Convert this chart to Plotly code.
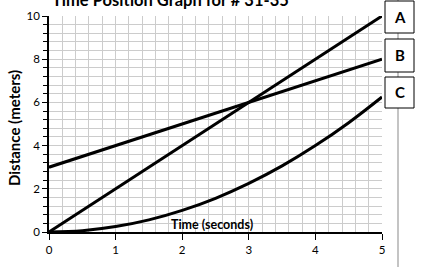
import plotly.graph_objects as go

t_line = [0, 5]
dist_a = [0, 10]
dist_b = [3, 8]
t_curve = [0, 0.5, 1, 1.5, 2, 2.5, 3, 3.5, 4, 4.5, 5]
dist_c = [0, 0.06, 0.25, 0.56, 1.0, 1.56, 2.25, 3.06, 4.0, 5.06, 6.25]
labels = ["A", "B", "C"]

W, H = 423, 267
L, R, T, B = 49, 41, 16, 35
pw, ph = W - L - R, H - T - B

def px(x):
    return (x - L) / pw

def py(y):
    return (H - B - y) / ph

FONT = "Lato"
fig = go.Figure()
line_style = dict(color="black", width=3)
fig.add_trace(go.Scatter(x=t_line, y=dist_a, mode="lines", line=line_style))
fig.add_trace(go.Scatter(x=t_line, y=dist_b, mode="lines", line=line_style))
fig.add_trace(go.Scatter(x=t_curve, y=dist_c, mode="lines", line=dict(color="black", width=3, shape="spline")))

shapes = [dict(type="line", xref="paper", yref="paper", x0=px(398), x1=px(398), y0=py(0), y1=py(H),
               line=dict(color="#b0b0b0", width=1.5), layer="below")]
boxes = [(1, 33), (39, 72), (77, 108)]
annotations = []
for lab, (y0, y1) in zip(labels, boxes):
    shapes.append(dict(type="rect", xref="paper", yref="paper", x0=px(385), x1=px(414), y0=py(y1), y1=py(y0),
                       line=dict(color="black", width=1), fillcolor="white"))
    annotations.append(dict(text=f"<b>{lab}</b>", xref="paper", yref="paper", x=px(399.5), y=py((y0 + y1) / 2),
                            showarrow=False, font=dict(family=FONT, size=15, color="black"),
                            xanchor="center", yanchor="middle"))
annotations.append(dict(text="<b>Time Position Graph for # 31-35</b>", xref="paper", yref="paper",
                        x=px(170), y=py(12), xanchor="center", yanchor="bottom", showarrow=False,
                        font=dict(family=FONT, size=16.5, color="black")))
annotations.append(dict(text="<b>Time (seconds)</b>", xref="paper", yref="paper",
                        x=px(212), y=py(234), xanchor="center", yanchor="bottom", showarrow=False,
                        font=dict(family=FONT, size=12.5, color="black")))
annotations.append(dict(text="<b>Distance (meters)</b>", xref="paper", yref="paper",
                        x=px(14), y=py(128), xanchor="center", yanchor="middle", showarrow=False,
                        textangle=-90, font=dict(family=FONT, size=15, color="black")))

fig.update_layout(
    width=W, height=H, margin=dict(l=L, r=R, t=T, b=B),
    plot_bgcolor="white", paper_bgcolor="white", showlegend=False,
    font=dict(family=FONT, size=11, color="black"),
    shapes=shapes, annotations=annotations,
)
fig.update_xaxes(range=[0, 5], dtick=1, showgrid=True, gridcolor="#cccccc", gridwidth=1,
                 minor=dict(dtick=0.2, showgrid=True, gridcolor="#cccccc", gridwidth=1),
                 showline=True, linecolor="black", linewidth=1.5, ticks="outside", ticklen=6,
                 tickcolor="black", zeroline=False, tickfont=dict(size=11.5), automargin=False)
fig.update_yaxes(range=[0, 10], dtick=2, showgrid=True, gridcolor="#cccccc", gridwidth=1,
                 minor=dict(dtick=0.4, showgrid=True, gridcolor="#cccccc", gridwidth=1,
                            ticks="outside", ticklen=4, tickcolor="black"),
                 showline=True, linecolor="black", linewidth=1.5, ticks="outside", ticklen=5,
                 tickcolor="black", zeroline=False, tickfont=dict(size=11.5), automargin=False)
fig.write_html("out.html")
